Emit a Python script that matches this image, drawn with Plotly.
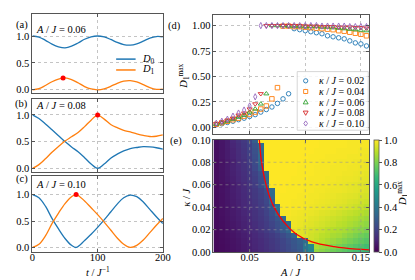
import plotly.graph_objects as go

W, H = 415, 280
def px(x): return x / W
def py(y): return 1 - y / H

# ---------------- data: panels (a)-(c) ----------------
t_a = [0, 10, 20, 30, 40, 50, 60, 70, 80, 90, 100, 110, 120, 130, 140, 150, 160, 170, 180, 190, 200]
D0_a = [1.0, 0.98, 0.92, 0.85, 0.80, 0.78, 0.81, 0.87, 0.94, 0.985, 1.0, 0.982, 0.936, 0.88, 0.84, 0.83, 0.855, 0.905, 0.96, 0.99, 0.985]
D1_a = [0.0, 0.02, 0.08, 0.15, 0.20, 0.22, 0.19, 0.13, 0.06, 0.015, 0.0, 0.018, 0.064, 0.12, 0.16, 0.17, 0.145, 0.095, 0.04, 0.008, 0.012]

t_b = [0, 10, 20, 30, 40, 50, 60, 70, 80, 90, 100, 110, 120, 130, 140, 150, 160, 170, 180, 190, 200]
D0_b = [1.0, 0.93, 0.83, 0.72, 0.61, 0.50, 0.40, 0.31, 0.20, 0.08, 0.0, 0.08, 0.19, 0.265, 0.325, 0.37, 0.39, 0.405, 0.40, 0.385, 0.36]
D1_b = [0.0, 0.07, 0.18, 0.30, 0.41, 0.51, 0.59, 0.67, 0.78, 0.90, 0.995, 0.92, 0.82, 0.76, 0.71, 0.68, 0.645, 0.615, 0.595, 0.60, 0.625]

t_c = [0, 10, 20, 30, 40, 50, 60, 67, 80, 90, 100, 110, 120, 130, 140, 150, 160, 170, 180, 190, 200]
D0_c = [1.0, 0.94, 0.78, 0.55, 0.35, 0.17, 0.04, 0.0, 0.13, 0.25, 0.38, 0.52, 0.67, 0.82, 0.94, 0.99, 0.96, 0.86, 0.72, 0.58, 0.45]
D1_c = [0.0, 0.06, 0.22, 0.45, 0.65, 0.83, 0.96, 1.0, 0.88, 0.75, 0.62, 0.48, 0.33, 0.18, 0.06, 0.0, 0.04, 0.14, 0.28, 0.42, 0.55]

peak_t = [47, 100, 67]
peak_D1 = [0.22, 0.995, 1.0]
panel_A = ["0.06", "0.08", "0.10"]

# ---------------- data: panels (d)-(e) ----------------
A_vals = [0.020, 0.025, 0.030, 0.035, 0.040, 0.045, 0.050, 0.055, 0.060, 0.065,
          0.070, 0.075, 0.080, 0.085, 0.090, 0.095, 0.100, 0.105, 0.110, 0.115,
          0.120, 0.125, 0.130, 0.135, 0.140, 0.145, 0.150, 0.155]
kappa_vals = [0.000, 0.005, 0.010, 0.015, 0.020, 0.025, 0.030, 0.035, 0.040, 0.045, 0.050,
              0.055, 0.060, 0.065, 0.070, 0.075, 0.080, 0.085, 0.090, 0.095, 0.100]
D1max_grid = [
    [0.020, 0.028, 0.036, 0.046, 0.058, 0.072, 0.086, 0.100, 0.118, 0.136, 0.155, 0.175, 0.200, 0.225, 0.250, 0.280, 0.380, 0.450, 0.84, 0.82, 0.80, 0.78, 0.76, 0.74, 0.72, 0.70, 0.68, 0.66],
    [0.021, 0.029, 0.038, 0.048, 0.060, 0.074, 0.089, 0.104, 0.122, 0.140, 0.160, 0.180, 0.205, 0.230, 0.260, 0.290, 0.390, 0.460, 0.87, 0.85, 0.83, 0.81, 0.79, 0.77, 0.75, 0.73, 0.71, 0.69],
    [0.022, 0.031, 0.040, 0.050, 0.063, 0.077, 0.092, 0.108, 0.126, 0.145, 0.165, 0.186, 0.210, 0.240, 0.270, 0.300, 0.360, 0.93, 0.91, 0.89, 0.87, 0.85, 0.83, 0.81, 0.79, 0.77, 0.75, 0.73],
    [0.023, 0.033, 0.043, 0.055, 0.068, 0.082, 0.098, 0.115, 0.135, 0.155, 0.175, 0.200, 0.230, 0.270, 0.330, 0.96, 0.95, 0.93, 0.92, 0.90, 0.89, 0.87, 0.86, 0.84, 0.82, 0.80, 0.78, 0.76],
    [0.025, 0.035, 0.048, 0.060, 0.075, 0.090, 0.107, 0.125, 0.150, 0.175, 0.200, 0.235, 0.280, 0.330, 0.97, 0.96, 0.95, 0.94, 0.93, 0.92, 0.90, 0.89, 0.88, 0.87, 0.85, 0.83, 0.82, 0.80],
    [0.027, 0.038, 0.050, 0.063, 0.078, 0.094, 0.112, 0.132, 0.155, 0.180, 0.210, 0.245, 0.290, 0.340, 0.98, 0.97, 0.96, 0.955, 0.945, 0.935, 0.925, 0.915, 0.90, 0.89, 0.875, 0.86, 0.845, 0.83],
    [0.028, 0.040, 0.053, 0.067, 0.082, 0.099, 0.118, 0.140, 0.163, 0.190, 0.225, 0.270, 0.340, 0.985, 0.98, 0.975, 0.97, 0.96, 0.955, 0.945, 0.935, 0.925, 0.915, 0.905, 0.89, 0.88, 0.865, 0.85],
    [0.029, 0.042, 0.056, 0.070, 0.086, 0.104, 0.124, 0.146, 0.170, 0.200, 0.245, 0.330, 0.99, 0.99, 0.985, 0.98, 0.975, 0.97, 0.965, 0.955, 0.95, 0.94, 0.93, 0.92, 0.91, 0.90, 0.89, 0.875],
    [0.030, 0.045, 0.060, 0.075, 0.090, 0.110, 0.130, 0.150, 0.180, 0.210, 0.280, 0.390, 0.995, 0.995, 0.99, 0.99, 0.985, 0.98, 0.975, 0.97, 0.965, 0.96, 0.95, 0.945, 0.935, 0.925, 0.915, 0.90],
    [0.031, 0.046, 0.061, 0.077, 0.094, 0.114, 0.135, 0.158, 0.185, 0.220, 0.330, 0.995, 0.995, 0.995, 0.99, 0.99, 0.985, 0.985, 0.98, 0.975, 0.97, 0.965, 0.96, 0.955, 0.945, 0.94, 0.93, 0.92],
    [0.032, 0.047, 0.063, 0.080, 0.098, 0.118, 0.140, 0.164, 0.192, 0.230, 0.340, 1.0, 0.995, 0.995, 0.995, 0.99, 0.99, 0.985, 0.985, 0.98, 0.975, 0.97, 0.965, 0.96, 0.955, 0.95, 0.94, 0.935],
    [0.033, 0.048, 0.064, 0.082, 0.100, 0.122, 0.145, 0.170, 0.200, 0.240, 0.350, 1.0, 1.0, 0.995, 0.995, 0.995, 0.99, 0.99, 0.985, 0.985, 0.98, 0.975, 0.975, 0.97, 0.965, 0.96, 0.955, 0.945],
    [0.030, 0.045, 0.060, 0.080, 0.100, 0.120, 0.150, 0.180, 0.230, 0.330, 1.0, 1.0, 1.0, 0.995, 0.995, 0.995, 0.99, 0.99, 0.99, 0.985, 0.985, 0.98, 0.975, 0.97, 0.965, 0.96, 0.955, 0.95],
    [0.034, 0.050, 0.067, 0.086, 0.107, 0.130, 0.158, 0.190, 0.240, 0.340, 1.0, 1.0, 1.0, 1.0, 0.995, 0.995, 0.995, 0.99, 0.99, 0.99, 0.985, 0.985, 0.98, 0.975, 0.975, 0.97, 0.965, 0.96],
    [0.035, 0.052, 0.070, 0.090, 0.112, 0.136, 0.165, 0.200, 0.250, 0.350, 1.0, 1.0, 1.0, 1.0, 1.0, 0.995, 0.995, 0.995, 0.99, 0.99, 0.99, 0.985, 0.985, 0.98, 0.98, 0.975, 0.97, 0.965],
    [0.035, 0.053, 0.072, 0.093, 0.116, 0.140, 0.170, 0.220, 0.310, 1.0, 1.0, 1.0, 1.0, 1.0, 1.0, 0.995, 0.995, 0.995, 0.99, 0.99, 0.99, 0.985, 0.985, 0.985, 0.98, 0.98, 0.975, 0.97],
    [0.035, 0.050, 0.070, 0.090, 0.120, 0.140, 0.180, 0.230, 0.330, 1.0, 1.0, 1.0, 1.0, 1.0, 1.0, 1.0, 0.995, 0.995, 0.995, 0.99, 0.99, 0.99, 0.985, 0.985, 0.985, 0.98, 0.98, 0.975],
    [0.037, 0.056, 0.076, 0.098, 0.123, 0.150, 0.190, 0.240, 0.340, 1.0, 1.0, 1.0, 1.0, 1.0, 1.0, 1.0, 1.0, 0.995, 0.995, 0.995, 0.99, 0.99, 0.99, 0.99, 0.985, 0.985, 0.985, 0.98],
    [0.038, 0.057, 0.078, 0.100, 0.127, 0.155, 0.195, 0.250, 0.350, 1.0, 1.0, 1.0, 1.0, 1.0, 1.0, 1.0, 1.0, 1.0, 0.995, 0.995, 0.995, 0.995, 0.99, 0.99, 0.99, 0.99, 0.985, 0.985],
    [0.039, 0.058, 0.080, 0.104, 0.132, 0.162, 0.200, 0.260, 0.360, 1.0, 1.0, 1.0, 1.0, 1.0, 1.0, 1.0, 1.0, 1.0, 1.0, 0.995, 0.995, 0.995, 0.995, 0.995, 0.99, 0.99, 0.99, 0.99],
    [0.040, 0.060, 0.080, 0.110, 0.140, 0.170, 0.210, 0.300, 1.0, 1.0, 1.0, 1.0, 1.0, 1.0, 1.0, 1.0, 1.0, 1.0, 1.0, 0.995, 0.995, 0.995, 0.995, 0.995, 0.99, 0.99, 0.99, 0.99],
]
# panel (d) series = rows of the grid
d_kappas = [0.02, 0.04, 0.06, 0.08, 0.10]
d_labels = ["0.02", "0.04", "0.06", "0.08", "0.10"]
d_colors = ["#1f77b4", "#ff7f0e", "#2ca02c", "#d62728", "#9467bd"]
d_symbols = ["circle-open", "square-open", "triangle-up-open", "triangle-down-open", "diamond-tall-open"]

# red critical curve in (e)
curve_A = [0.0575, 0.0586, 0.0601, 0.0624, 0.0658, 0.0710, 0.0800, 0.0917, 0.1060, 0.1260, 0.1460, 0.1575]
curve_k = [0.1030, 0.1000, 0.0846, 0.0703, 0.0561, 0.0419, 0.0276, 0.0162, 0.0091, 0.0049, 0.0027, 0.0021]

FONT = "Liberation Serif"
BLUE, ORANGE = "#1f77b4", "#ff7f0e"

fig = go.Figure()

# (a)-(c)
series = [(t_a, D0_a, D1_a), (t_b, D0_b, D1_b), (t_c, D0_c, D1_c)]
for i, (t, d0, d1) in enumerate(series):
    xa = "x" if i == 0 else f"x{i+1}"
    ya = "y" if i == 0 else f"y{i+1}"
    fig.add_trace(go.Scatter(x=t, y=d0, mode="lines", line=dict(color=BLUE, width=1.3, shape="spline", smoothing=1.0),
                             xaxis=xa, yaxis=ya, showlegend=False, hoverinfo="skip"))
    fig.add_trace(go.Scatter(x=t, y=d1, mode="lines", line=dict(color=ORANGE, width=1.3, shape="spline", smoothing=1.0),
                             xaxis=xa, yaxis=ya, showlegend=False, hoverinfo="skip"))
    fig.add_trace(go.Scatter(x=[peak_t[i]], y=[peak_D1[i]], mode="markers", marker=dict(color="red", size=5),
                             xaxis=xa, yaxis=ya, showlegend=False, hoverinfo="skip"))

# (d)
for kap, col, sym in zip(d_kappas, d_colors, d_symbols):
    row = D1max_grid[kappa_vals.index(kap)]
    fig.add_trace(go.Scatter(x=A_vals, y=row, mode="markers",
                             marker=dict(symbol=sym, color=col, size=4.5, line=dict(width=0.9, color=col)),
                             xaxis="x4", yaxis="y4", showlegend=False, hoverinfo="skip", cliponaxis=False))

# (e)
fig.add_trace(go.Heatmap(x=A_vals, y=kappa_vals, z=D1max_grid, colorscale="Viridis", zmin=0, zmax=1,
                         xaxis="x5", yaxis="y5", hoverinfo="skip",
                         colorbar=dict(thickness=5, thicknessmode="pixels", len=117 / H, lenmode="fraction",
                                       x=px(373), xanchor="left", y=py(190.5), yanchor="middle",
                                       xpad=0, ypad=0, outlinewidth=0.8, outlinecolor="#555",
                                       ticks="outside", ticklen=3, tickwidth=0.8, tickcolor="#555",
                                       tickvals=[0, 0.2, 0.4, 0.6, 0.8, 1.0],
                                       ticktext=["0.0", "0.2", "0.4", "0.6", "0.8", "1.0"],
                                       tickfont=dict(family=FONT, size=10.5, color="black"))))
fig.add_trace(go.Scatter(x=curve_A, y=curve_k, mode="lines", line=dict(color="red", width=1.3, shape="spline"),
                         xaxis="x5", yaxis="y5", showlegend=False, hoverinfo="skip"))

common = dict(showline=True, linecolor="#555", linewidth=1, mirror="ticks", ticks="inside", ticklen=3,
              tickwidth=0.8, tickcolor="#555", showgrid=True, gridcolor="#c4c4c4", gridwidth=0.7,
              griddash="dot", zeroline=False, tickfont=dict(family=FONT, size=10.5, color="black"))

ydoms = [(1, 83), (89, 166), (170, 249)]
yranges = [[-0.055, 1.41], [-0.077, 1.305], [-0.09, 1.345]]
layout = dict(width=W, height=H, margin=dict(l=0, r=0, t=0, b=0), paper_bgcolor="white", plot_bgcolor="white",
              font=dict(family=FONT, size=10, color="black"), showlegend=False)
for i in range(3):
    xk = "xaxis" if i == 0 else f"xaxis{i+1}"
    yk = "yaxis" if i == 0 else f"yaxis{i+1}"
    ya = "y" if i == 0 else f"y{i+1}"
    xa = "x" if i == 0 else f"x{i+1}"
    layout[xk] = dict(common, domain=[px(22), px(156)], range=[0, 200], anchor=ya,
                      tickvals=[0, 100, 200], showticklabels=(i == 2), ticklabelstandoff=-5)
    layout[yk] = dict(common, domain=[py(ydoms[i][1]), py(ydoms[i][0])], range=yranges[i], anchor=xa,
                      tickvals=[0, 0.5, 1.0], ticktext=["0.0", "0.5", "1.0"])

layout["xaxis4"] = dict(common, domain=[px(208), px(368)], range=[0.0175, 0.1575], anchor="y4",
                        tickvals=[0.05, 0.10, 0.15], showticklabels=False)
layout["yaxis4"] = dict(common, domain=[py(126), py(2)], range=[-0.066, 1.105], anchor="x4",
                        tickvals=[0, 0.25, 0.5, 0.75, 1.0], ticktext=["0.00", "0.25", "0.50", "0.75", "1.00"])
layout["xaxis5"] = dict(common, domain=[px(208), px(368)], range=[0.0175, 0.1575], anchor="y5",
                        tickvals=[0.05, 0.10, 0.15], ticktext=["0.05", "0.10", "0.15"], showgrid=False,
                        layer="above traces", ticklabelstandoff=-5)
layout["yaxis5"] = dict(common, domain=[py(249), py(132)], range=[0, 0.1], anchor="x5",
                        tickvals=[0, 0.02, 0.04, 0.06, 0.08, 0.10],
                        ticktext=["0.00", "0.02", "0.04", "0.06", "0.08", "0.10"], showgrid=False,
                        layer="above traces")
fig.update_layout(**layout)

shapes = []
# grid lines drawn above the heatmap
for a in [0.05, 0.10, 0.15]:
    shapes.append(dict(type="line", xref="x5", yref="y5", x0=a, x1=a, y0=0, y1=0.1, layer="above",
                       line=dict(color="rgba(150,150,150,0.8)", width=0.7, dash="dot")))
for k in [0.02, 0.04, 0.06, 0.08]:
    shapes.append(dict(type="line", xref="x5", yref="y5", x0=0.0175, x1=0.1575, y0=k, y1=k, layer="above",
                       line=dict(color="rgba(150,150,150,0.8)", width=0.7, dash="dot")))

# legend for (a)
for yy, col in [(48, BLUE), (59.3, ORANGE)]:
    shapes.append(dict(type="line", xref="paper", yref="paper", x0=px(108), x1=px(128), y0=py(yy), y1=py(yy),
                       line=dict(color=col, width=1.5)))

# legend for (d)
shapes.append(dict(type="rect", xref="paper", yref="paper", x0=px(294), x1=px(367), y0=py(122), y1=py(61),
                   fillcolor="rgba(255,255,255,0.85)", line=dict(color="#cccccc", width=0.8), layer="above"))
def pth(pts):
    return "M " + " L ".join(f"{px(x):.5f},{py(y):.5f}" for x, y in pts) + " Z"
cx = 302.7
rows_y = [70.6, 81.7, 92.8, 103.9, 115.0]
for j, (col, yy) in enumerate(zip(d_colors, rows_y)):
    ln = dict(color=col, width=0.9)
    if j == 0:
        shapes.append(dict(type="circle", xref="paper", yref="paper", x0=px(cx - 2.2), x1=px(cx + 2.2),
                           y0=py(yy + 2.2), y1=py(yy - 2.2), line=ln, layer="above"))
    elif j == 1:
        shapes.append(dict(type="rect", xref="paper", yref="paper", x0=px(cx - 2.1), x1=px(cx + 2.1),
                           y0=py(yy + 2.1), y1=py(yy - 2.1), line=ln, layer="above"))
    elif j == 2:
        shapes.append(dict(type="path", xref="paper", yref="paper",
                           path=pth([(cx, yy - 2.6), (cx - 2.5, yy + 1.8), (cx + 2.5, yy + 1.8)]), line=ln, layer="above"))
    elif j == 3:
        shapes.append(dict(type="path", xref="paper", yref="paper",
                           path=pth([(cx, yy + 2.6), (cx - 2.5, yy - 1.8), (cx + 2.5, yy - 1.8)]), line=ln, layer="above"))
    else:
        shapes.append(dict(type="path", xref="paper", yref="paper",
                           path=pth([(cx, yy - 2.7), (cx + 1.9, yy), (cx, yy + 2.7), (cx - 1.9, yy)]), line=ln, layer="above"))

annotations = []
def ann(x, y, text, size=10.5, xanchor="center", angle=0):
    annotations.append(dict(x=px(x), y=py(y), xref="paper", yref="paper", text=text, showarrow=False,
                            xanchor=xanchor, yanchor="middle", textangle=angle,
                            font=dict(family=FONT, size=size, color="black")))

for lab, (x, y) in zip(["(a)", "(b)", "(c)", "(d)", "(e)"], [(11, 13), (11, 95), (11, 173), (168, 14), (169, 133)]):
    ann(x, y, lab)
for txt, y in zip(panel_A, [16.7, 96.7, 178]):
    ann(24, y, f"<i>A</i> / <i>J</i> = {txt}", xanchor="left")
ann(133, 48, "<i>D</i><sub>0</sub>", xanchor="left")
ann(133, 59.3, "<i>D</i><sub>1</sub>", xanchor="left")
for lab, yy in zip(d_labels, rows_y):
    ann(314, yy, f"<i>κ</i> / <i>J</i> = {lab}", size=10, xanchor="left")
ann(89, 269, "<i>t</i> / <i>J</i><sup>−1</sup>")
ann(288, 270, "<i>A</i> / <i>J</i>")
ann(180, 192, "<i>κ</i> / <i>J</i>", angle=-90)
ann(178, 66, "<i>D</i><sub>1</sub><sup>max</sup>", angle=-90)
ann(402, 188, "<i>D</i><sub>1</sub><sup>max</sup>", angle=-90)

fig.update_layout(shapes=shapes, annotations=annotations)
fig.write_html("out.html")
